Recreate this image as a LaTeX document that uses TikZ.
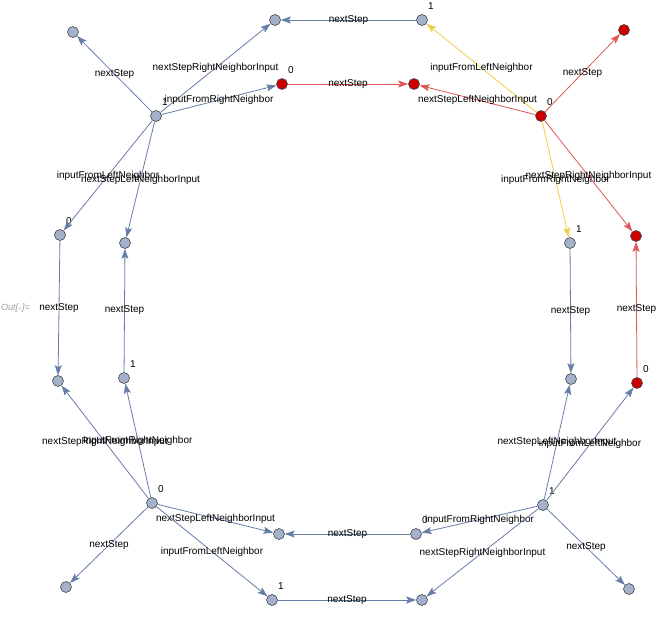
\documentclass[tikz,border=0pt]{standalone}
\usepackage{fontspec}
\setmainfont{Liberation Sans}
\usetikzlibrary{arrows.meta}
\definecolor{eblue}{RGB}{102,125,168}
\definecolor{ered}{RGB}{222,88,88}
\definecolor{eyel}{RGB}{238,208,72}
\definecolor{ngray}{RGB}{163,177,204}
\definecolor{nred}{RGB}{204,0,0}
\definecolor{nline}{RGB}{70,70,70}
\tikzset{
  vg/.style={circle,draw=nline,line width=0.6pt,fill=ngray,minimum size=11pt,inner sep=0pt},
  vr/.style={circle,draw=nline,line width=0.6pt,fill=nred,minimum size=11pt,inner sep=0pt},
  ed/.style={line width=0.8pt,-{Stealth[length=10pt,width=7pt,inset=2pt]}},
  eb/.style={ed,eblue},
  er/.style={ed,ered},
  ey/.style={ed,eyel},
  el/.style={midway,font=\fontsize{10}{12}\selectfont,text=black,inner sep=0pt},
  nl/.style={font=\fontsize{10}{12}\selectfont,inner sep=0pt}
}
\begin{document}
\begin{tikzpicture}[x=1pt,y=-1pt]
\useasboundingbox (0,0) rectangle (657,618);
% nodes
\node[vg] (H1) at (156,116) {};
\node[vg] (A) at (73,32) {};
\node[vg] (B) at (275,20) {};
\node[vr] (C) at (282,84) {};
\node[vg] (D) at (60,235) {};
\node[vg] (E) at (125,243) {};
\node[vg] (F) at (422,20) {};
\node[vr] (G) at (414,84) {};
\node[vr] (H2) at (541,116) {};
\node[vr] (I) at (624,30) {};
\node[vg] (J) at (570,243) {};
\node[vr] (K) at (636,236) {};
\node[vg] (L) at (571,379) {};
\node[vr] (M) at (637,383) {};
\node[vg] (H3) at (543,505) {};
\node[vg] (N) at (416,534) {};
\node[vg] (O) at (422,600) {};
\node[vg] (P) at (629,589) {};
\node[vg] (Q) at (279,534) {};
\node[vg] (R) at (272,600) {};
\node[vg] (H4) at (152,503) {};
\node[vg] (S) at (66,587) {};
\node[vg] (T) at (58,381) {};
\node[vg] (U) at (124,378) {};
% vertex labels
\foreach \n/\t in {H1/1,C/0,F/1,H2/0,D/0,J/1,M/0,U/1,H4/0,R/1,H3/1,N/0}
  \node[nl] (lab\n) at ([shift={(9,-14)}]\n) {\t};
% edges top-left hub
\draw[eb] (H1) -- (A) node[el]{nextStep};
\draw[eb] (H1) -- (B) node[el]{nextStepRightNeighborInput};
\draw[eb] (H1) -- (C) node[el]{inputFromRightNeighbor};
\draw[eb] (H1) -- (D) node[el]{inputFromLeftNeighbor};
\draw[eb] (H1) -- (E) node[el]{nextStepLeftNeighborInput};
% top
\draw[eb] (F) -- (B) node[el]{nextStep};
\draw[er] (C) -- (G) node[el]{nextStep};
% top-right hub
\draw[ey] (H2) -- (F) node[el]{inputFromLeftNeighbor};
\draw[er] (H2) -- (G) node[el]{nextStepLeftNeighborInput};
\draw[er] (H2) -- (I) node[el]{nextStep};
\draw[ey] (H2) -- (J) node[el]{inputFromRightNeighbor};
\draw[er] (H2) -- (K) node[el]{nextStepRightNeighborInput};
% right
\draw[eb] (J) -- (L) node[el]{nextStep};
\draw[er] (M) -- (K) node[el]{nextStep};
% bottom-right hub
\draw[eb] (H3) -- (L) node[el]{nextStepLeftNeighborInput};
\draw[eb] (H3) -- (M) node[el]{inputFromLeftNeighbor};
\draw[eb] (H3) -- (N) node[el]{inputFromRightNeighbor};
\draw[eb] (H3) -- (O) node[el]{nextStepRightNeighborInput};
\draw[eb] (H3) -- (P) node[el]{nextStep};
% bottom
\draw[eb] (N) -- (Q) node[el]{nextStep};
\draw[eb] (R) -- (O) node[el]{nextStep};
% bottom-left hub
\draw[eb] (H4) -- (Q) node[el]{nextStepLeftNeighborInput};
\draw[eb] (H4) -- (R) node[el]{inputFromLeftNeighbor};
\draw[eb] (H4) -- (S) node[el]{nextStep};
\draw[eb] (H4) -- (T) node[el]{nextStepRightNeighborInput};
\draw[eb] (H4) -- (U) node[el]{inputFromRightNeighbor};
% left
\draw[eb] (D) -- (T) node[el]{nextStep};
\draw[eb] (U) -- (E) node[el]{nextStep};
% out label
\node[anchor=west,inner sep=0pt,text=black!40,font=\fontsize{9}{11}\selectfont\itshape] (out) at (1,308) {Out[{\fontsize{6}{6}\selectfont$\circ$}]=};
\end{tikzpicture}
\end{document}
